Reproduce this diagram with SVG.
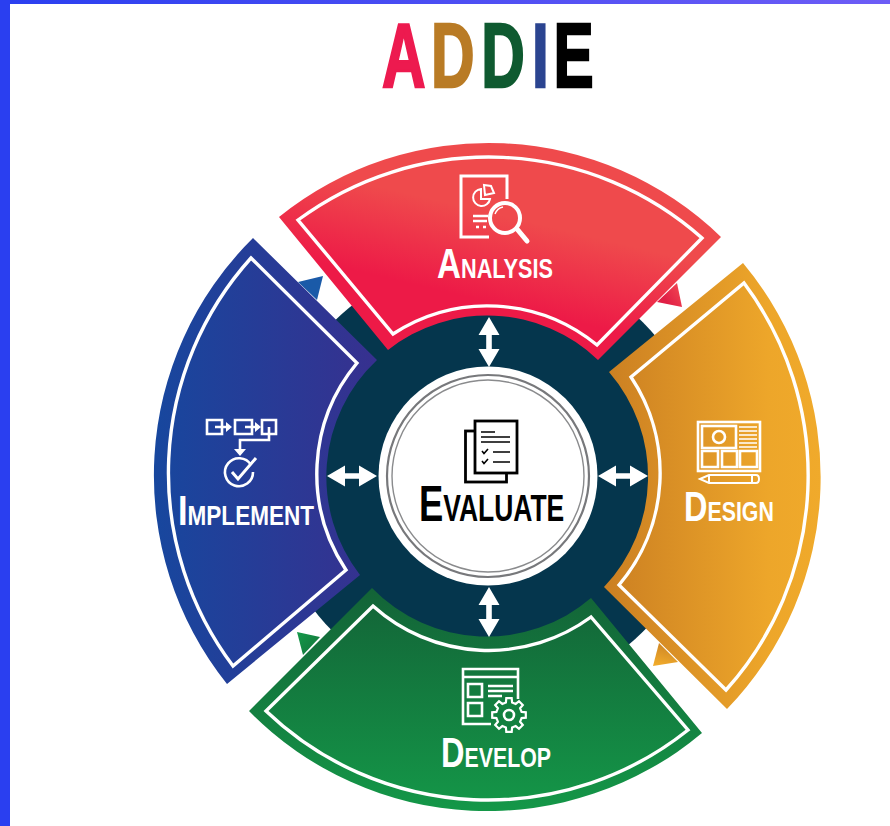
<svg xmlns="http://www.w3.org/2000/svg" width="890" height="826" viewBox="0 0 890 826">
<defs>
<linearGradient id="gTop" x1="0" x2="1" y1="0" y2="0"><stop offset="0" stop-color="#2a3ff0"/><stop offset="1" stop-color="#6d5cf6"/></linearGradient>
<linearGradient id="gA" gradientUnits="userSpaceOnUse" x1="500" y1="215" x2="480" y2="300"><stop offset="0" stop-color="#ef4a4c"/><stop offset="1" stop-color="#ed1a47"/></linearGradient>
<linearGradient id="gI" gradientUnits="userSpaceOnUse" x1="153" y1="0" x2="377" y2="0"><stop offset="0" stop-color="#17479e"/><stop offset="1" stop-color="#37308f"/></linearGradient>
<linearGradient id="gD" gradientUnits="userSpaceOnUse" x1="604" y1="0" x2="822" y2="0"><stop offset="0" stop-color="#cb7f22"/><stop offset="0.75" stop-color="#eda62a"/><stop offset="1" stop-color="#f0aa2b"/></linearGradient>
<linearGradient id="gV" gradientUnits="userSpaceOnUse" x1="0" y1="588" x2="0" y2="810"><stop offset="0" stop-color="#136337"/><stop offset="1" stop-color="#149748"/></linearGradient>
<linearGradient id="gTR" gradientUnits="userSpaceOnUse" x1="665" y1="300" x2="680" y2="290"><stop offset="0" stop-color="#e01f45"/><stop offset="1" stop-color="#ef4050"/></linearGradient>
<linearGradient id="gTO" gradientUnits="userSpaceOnUse" x1="665" y1="645" x2="660" y2="665"><stop offset="0" stop-color="#d08825"/><stop offset="1" stop-color="#f0aa2b"/></linearGradient>
<linearGradient id="gTG" gradientUnits="userSpaceOnUse" x1="298" y1="635" x2="315" y2="650"><stop offset="0" stop-color="#149748"/><stop offset="1" stop-color="#137a3e"/></linearGradient>
<path id="dbl" d="M0,-25 L10.5,-7 L2.8,-7 L2.8,7 L10.5,7 L0,25 L-10.5,7 L-2.8,7 L-2.8,-7 L-10.5,-7 Z"/>
</defs>
<style>
.ring{fill:none;stroke:#fff;stroke-width:3.4}
.lbl{font-family:"Liberation Sans",Arial,sans-serif;font-weight:700;fill:#fff;font-size:27.5px}
.big{font-size:42px}
.ev{font-family:"Liberation Sans",Arial,sans-serif;font-weight:700;fill:#000;font-size:36px}
.evb{font-size:49.5px}
.ico{fill:none;stroke:#fff;stroke-width:2.6}
.icb{fill:none;stroke:#000;stroke-width:2.8}
.arrow{fill:#fff}
</style>
<rect width="890" height="826" fill="#fff"/>
<rect width="890" height="4" fill="url(#gTop)"/>
<rect width="10" height="826" fill="#2a3ff0"/>
<g id="title">
<text transform="translate(382,87) scale(0.67,1)" font-family="Liberation Sans, Arial, sans-serif" font-weight="700" font-size="90" stroke-width="2.4"><tspan x="0" fill="#ed1a4f" stroke="#ed1a4f">A</tspan><tspan x="73" fill="#b97b25" stroke="#b97b25">D</tspan><tspan x="148" fill="#0f5a30" stroke="#0f5a30">D</tspan><tspan x="224" fill="#2b4490" stroke="#2b4490">I</tspan><tspan x="256" fill="#000" stroke="#000">E</tspan></text>
</g>
<circle id="hub" cx="488" cy="477" r="219" fill="#05364d"/>
<g id="analysis">
<polygon points="657,302 677,283 682,307" fill="url(#gTR)"/>
<path d="M279,217 A334,334 0 0 1 721,237 L598,360 A160,160 0 0 0 388,350 Z" fill="url(#gA)"/>
<path class="ring" d="M298,220 A321,321 0 0 1 702,238 L597,345 A173,173 0 0 0 393,334 Z"/>
<path class="ico" d="M489,237 H461 V176 H507 V199" style="stroke-width:3"/>
<path class="ico" d="M481,189 A8.5,8.5 0 1 0 490,199 H481 Z M484,185 L491,186 L494,193 L485,195 Z" style="stroke-width:2"/>
<path class="ico" d="M473,216 H488 M473,221 H487 M476,227 H479 M483,227 H486"/>
<circle cx="505" cy="218" r="15" fill="none" stroke="#fff" stroke-width="4"/>
<path d="M517,229 L527,241" stroke="#fff" stroke-width="5" stroke-linecap="round" fill="none"/>
<path d="M495,214 A11,11 0 0 1 503,207" stroke="#fff" stroke-width="1.4" fill="none"/>
<text class="lbl" transform="translate(437,278) scale(0.79,1)"><tspan class="big">A</tspan>NALYSIS</text>
</g>
<g id="implement">
<polygon points="298,282 323,276 317,300" fill="#1a5aa8"/>
<path d="M253,238 A334,334 0 0 0 227,684 L360,575 A160,160 0 0 1 377,360 Z" fill="url(#gI)"/>
<path class="ring" d="M251,258 A321,321 0 0 0 233,666 L346,570 A173,173 0 0 1 357,363 Z"/>
<path class="ico" d="M207,420 H222 V434 H207 Z M235,420 H252 V434 H235 Z M262,420 H276 V434 H262 Z"/>
<path class="ico" d="M215,427 H229 M245,427 H258 M269,427 V440 H240 V451"/>
<path d="M232,427 L226,422 V432 Z M261,427 L255,422 V432 Z M240,456 L234,449 H246 Z" fill="#fff"/>
<path class="ico" d="M251,465 A14,14 0 1 0 253,472"/>
<path class="ico" d="M232,472 L238,479 L256,458" style="stroke-width:3"/>
<text class="lbl" transform="translate(178,525) scale(0.82,1)"><tspan class="big">I</tspan>MPLEMENT</text>
</g>
<g id="design">
<polygon points="653,666 659,643 678,662" fill="url(#gTO)"/>
<path d="M743,263 A334,334 0 0 1 727,709 L604,587 A160,160 0 0 0 609,372 Z" fill="url(#gD)"/>
<path class="ring" d="M744,283 A321,321 0 0 1 726,690 L619,585 A173,173 0 0 0 631,377 Z"/>
<rect class="ico" x="698" y="422" width="62" height="49"/>
<rect class="ico" x="702" y="426" width="34" height="22"/>
<circle class="ico" cx="719" cy="437" r="6"/>
<path class="ico" d="M739,427 H757 M739,431 H757 M739,435 H757 M739,439 H757 M739,443 H757 M739,447 H757" style="stroke-width:1.6"/>
<path class="ico" d="M702,451 H718 V467 H702 Z M722,451 H737 V467 H722 Z M740,451 H757 V467 H740 Z"/>
<path class="ico" d="M700,479 L709,475 H756 Q759,475 759,479 Q759,483 756,483 H709 Z M709,475 V483 M752,475 V483" style="stroke-width:2"/>
<text class="lbl" transform="translate(684,521) scale(0.775,1)"><tspan class="big">D</tspan>ESIGN</text>
</g>
<g id="develop">
<polygon points="297,632 320,637 303,655" fill="url(#gTG)"/>
<path d="M249,711 A334,334 0 0 0 702,733 L591,598 A160,160 0 0 1 372,588 Z" fill="url(#gV)"/>
<path class="ring" d="M266,711 A321,321 0 0 0 688,730 L591,617 A173,173 0 0 1 373,606 Z"/>
<path class="ico" d="M518,699 V669 H463 V724 H491 M463,677 H518"/>
<path class="ico" d="M468,684 H482 V697 H468 Z M468,703 H482 V716 H468 Z M488,686 H513 M488,691 H513 M488,696 H502"/>
<polygon transform="translate(509,715)" points="12.6,-3.1 16.8,-2.7 16.8,2.7 12.6,3.1 11.1,6.7 13.8,10 10,13.8 6.7,11.1 3.1,12.6 2.7,16.8 -2.7,16.8 -3.1,12.6 -6.7,11.1 -10,13.8 -13.8,10 -11.1,6.7 -12.6,3.1 -16.8,2.7 -16.8,-2.7 -12.6,-3.1 -11.1,-6.7 -13.8,-10 -10,-13.8 -6.7,-11.1 -3.1,-12.6 -2.7,-16.8 2.7,-16.8 3.1,-12.6 6.7,-11.1 10,-13.8 13.8,-10 11.1,-6.7" fill="#12803f" stroke="#fff" stroke-width="2.2"/>
<circle class="ico" cx="509" cy="715" r="5"/>
<text class="lbl" transform="translate(441,767) scale(0.775,1)"><tspan class="big">D</tspan>EVELOP</text>
</g>
<g id="evaluate">
<circle cx="488" cy="476" r="109.500" fill="#fff"/>
<circle cx="488" cy="476" r="101" fill="none" stroke="#77787b" stroke-width="2.2"/>
<circle cx="488" cy="476" r="96" fill="none" stroke="#8a8b8d" stroke-width="1.4"/>
<rect class="icb" x="465.500" y="431" width="41" height="51"/>
<rect x="475" y="421" width="42" height="52" fill="#fff" stroke="#000" stroke-width="2.8"/>
<path class="icb" d="M481,432 H495 M481,437 H510 M481,442 H510 M493,452 H510 M493,462 H510" style="stroke-width:1.6"/>
<path class="icb" d="M482,451 L484,453.500 L488,449 M482,461 L484,463.500 L488,459" style="stroke-width:1.6"/>
<text class="ev" transform="translate(419,521) scale(0.735,1)"><tspan class="evb">E</tspan>VALUATE</text>
</g>
<g id="connectors">
<use class="arrow" href="#dbl" transform="translate(489,342)"/>
<use class="arrow" href="#dbl" transform="translate(489,612)"/>
<use class="arrow" href="#dbl" transform="translate(352,476) rotate(90)"/>
<use class="arrow" href="#dbl" transform="translate(623,476) rotate(90)"/>
</g>
</svg>
